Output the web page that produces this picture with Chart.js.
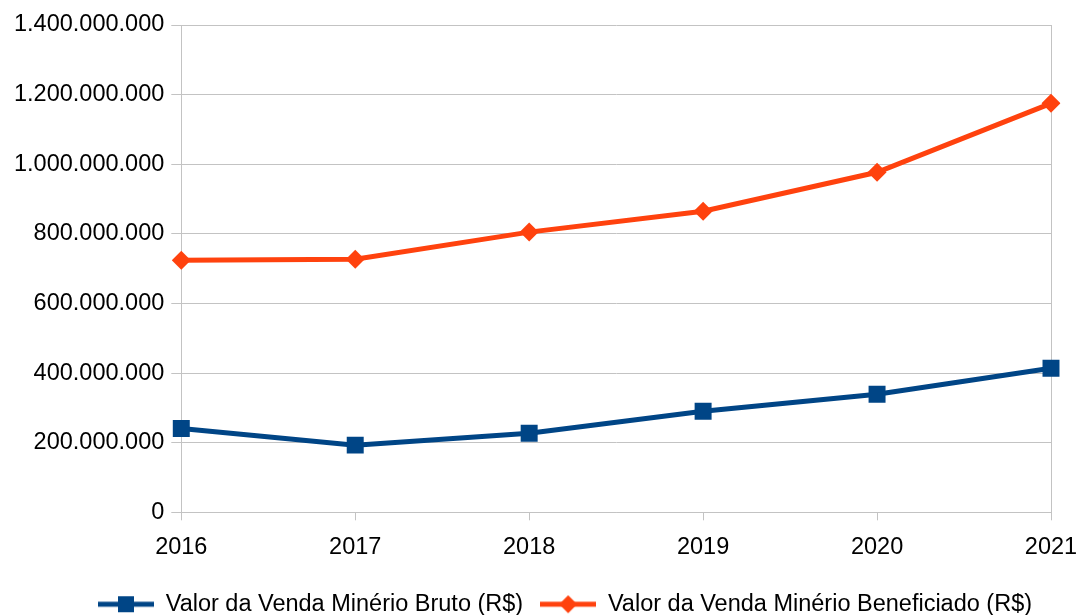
<!DOCTYPE html>
<html>
<head>
<meta charset="utf-8">
<script src="https://cdn.jsdelivr.net/npm/chart.js@4/dist/chart.umd.min.js"></script>
<style>
  html, body { margin: 0; padding: 0; background: #fff; }
  #wrap { width: 1078px; height: 615px; }
</style>
</head>
<body>
<div id="wrap"><canvas id="chart"></canvas></div>
<script>
// ── Dados ────────────────────────────────────────────────────────────────
const ANOS = ['2016', '2017', '2018', '2019', '2020', '2021'];
const BRUTO = [241000000, 193000000, 227000000, 290000000, 339000000, 414000000];
const BENEFICIADO = [724000000, 727000000, 805000000, 865000000, 977000000, 1175000000];
const LABEL_BRUTO = 'Valor da Venda Minério Bruto (R$)';
const LABEL_BENEF = 'Valor da Venda Minério Beneficiado (R$)';

const AZUL    = '#004586';
const LARANJA = '#ff420e';
const GRADE   = '#c3c3c3';

Chart.defaults.font.family = "'Liberation Sans', Arial, sans-serif";
Chart.defaults.color = '#000';

const fmt = v => Math.round(v).toString().replace(/\B(?=(\d{3})+(?!\d))/g, '.');

// ícones da legenda: linha + marcador
function iconeLegenda(cor, tipo) {
  const c = document.createElement('canvas');
  c.width = 56; c.height = 22;
  const ctx = c.getContext('2d');
  ctx.strokeStyle = cor;
  ctx.lineWidth = 5;
  ctx.beginPath(); ctx.moveTo(0, 11); ctx.lineTo(56, 11); ctx.stroke();
  ctx.fillStyle = cor;
  ctx.beginPath();
  if (tipo === 'rect') {
    ctx.rect(28 - 8, 11 - 8, 16, 16);
  } else {
    ctx.moveTo(28, 2); ctx.lineTo(37, 11); ctx.lineTo(28, 20); ctx.lineTo(19, 11); ctx.closePath();
  }
  ctx.fill();
  return c;
}
const ICONE_BRUTO = iconeLegenda(AZUL, 'rect');
const ICONE_BENEF = iconeLegenda(LARANJA, 'diamond');

// desloca a legenda (no original ela não fica centrada)
const LEGEND_DX = 36;
const LEGEND_DY = 1;
const moverLegenda = {
  id: 'moverLegenda',
  afterLayout(chart) {
    const lg = chart.legend;
    if (!lg) return;
    lg.left += LEGEND_DX; lg.right += LEGEND_DX;
    lg.top += LEGEND_DY;  lg.bottom += LEGEND_DY;
  }
};

// sem folga automática para rótulos que transbordam
const semFolga = scale => {
  scale.paddingLeft = 0; scale.paddingRight = 0;
  scale.paddingTop = 0;  scale.paddingBottom = 0;
};

new Chart(document.getElementById('chart'), {
  type: 'line',
  data: {
    labels: ANOS,
    datasets: [
      {
        label: LABEL_BRUTO,
        data: BRUTO,
        borderColor: AZUL,
        backgroundColor: AZUL,
        borderWidth: 5,
        pointStyle: 'rect',
        pointRadius: 12,
        pointBorderWidth: 0,
        tension: 0,
      },
      {
        label: LABEL_BENEF,
        data: BENEFICIADO,
        borderColor: LARANJA,
        backgroundColor: LARANJA,
        borderWidth: 5,
        pointStyle: 'rectRot',
        pointRadius: 9.5,
        pointBorderWidth: 0,
        tension: 0,
      },
    ]
  },
  plugins: [moverLegenda],
  options: {
    responsive: true,
    maintainAspectRatio: false,
    animation: false,
    layout: { padding: { left: 7, right: 27, top: 25, bottom: -10 } },
    plugins: {
      tooltip: { enabled: false },
      legend: {
        position: 'bottom',
        labels: {
          font: { size: 23.5 },
          color: '#000',
          usePointStyle: true,
          pointStyleWidth: 56,
          padding: 17,
          generateLabels: chart => chart.data.datasets.map((ds, i) => ({
            text: ds.label,
            pointStyle: i === 0 ? ICONE_BRUTO : ICONE_BENEF,
            fillStyle: ds.borderColor,
            strokeStyle: ds.borderColor,
            lineWidth: 0,
            hidden: false,
            datasetIndex: i,
          })),
        }
      }
    },
    scales: {
      x: {
        offset: false,
        afterFit: semFolga,
        grid: {
          color: ctx => ctx.index === ANOS.length - 1 ? GRADE : 'rgba(0,0,0,0)',
          tickColor: GRADE,
          tickLength: 8,
        },
        border: { color: GRADE },
        ticks: { font: { size: 23.5 }, color: '#000', padding: 13, maxRotation: 0 },
      },
      y: {
        min: 0,
        max: 1400000000,
        afterFit: semFolga,
        grid: { color: GRADE, tickLength: 10 },
        border: { color: GRADE },
        ticks: {
          stepSize: 200000000,
          font: { size: 23.5 },
          color: '#000',
          padding: 7,
          callback: v => fmt(v),
        },
      }
    }
  }
});
</script>
</body>
</html>
